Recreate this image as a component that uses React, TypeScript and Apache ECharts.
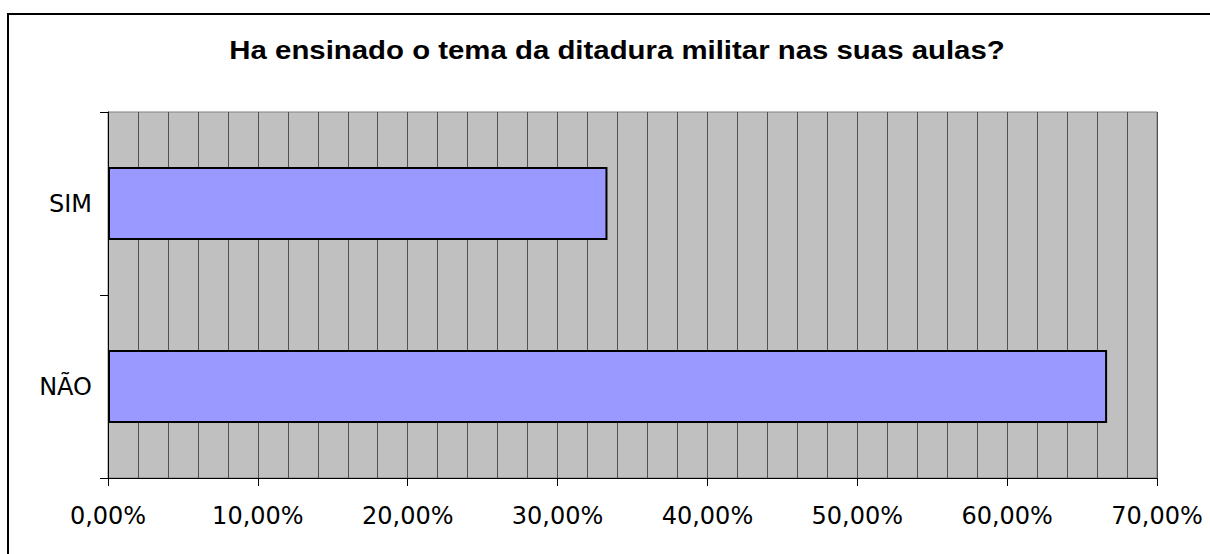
import React, { useEffect, useRef } from "react";
import * as echarts from "echarts";

const titleText = "Ha ensinado o tema da ditadura militar nas suas aulas?";
const categories = ["NÃO", "SIM"];
const values = [0.6667, 0.3333];
const axisMin = 0;
const axisMax = 0.7;
const axisInterval = 0.1;

const fmt = (v: number) => (v * 100).toFixed(2).replace(".", ",") + "%";

export default function App() {
  const ref = useRef<HTMLDivElement>(null);
  useEffect(() => {
    document.body.style.margin = "0";
    const chart = echarts.init(ref.current!, null, { renderer: "svg" });
    chart.setOption({
      animation: false,
      backgroundColor: "#ffffff",
      graphic: [
        {
          type: "rect",
          shape: { x: 8, y: 14, width: 1300, height: 700 },
          style: { fill: "none", stroke: "#000", lineWidth: 2 },
          silent: true,
        },
        {
          type: "text",
          x: 617,
          y: 50,
          scaleX: 1.13,
          style: {
            text: titleText,
            fontFamily: "Liberation Sans",
            fontSize: 26,
            fontWeight: "bold",
            fill: "#000",
            textAlign: "center",
            textVerticalAlign: "middle",
          },
        },
      ],
      grid: {
        left: 108,
        right: 53,
        top: 112,
        bottom: 76,
        show: true,
        backgroundColor: "#C0C0C0",
        borderColor: "#808080",
        borderWidth: 1,
      },
      xAxis: {
        type: "value",
        min: axisMin,
        max: axisMax,
        interval: axisInterval,
        axisLine: { show: true, lineStyle: { color: "#000", width: 1 } },
        axisTick: { show: true, length: 8, lineStyle: { color: "#000" } },
        axisLabel: {
          formatter: fmt,
          fontFamily: "DejaVu Sans",
          fontSize: 24,
          color: "#000",
          margin: 26,
        },
        splitLine: { show: true, lineStyle: { color: "#505050", width: 1 } },
        minorTick: { show: false, splitNumber: 5 },
        minorSplitLine: { show: true, lineStyle: { color: "#505050", width: 1 } },
      },
      yAxis: {
        type: "category",
        data: categories,
        axisLine: { show: true, lineStyle: { color: "#000", width: 1 } },
        axisTick: { show: true, length: 8, lineStyle: { color: "#000" } },
        axisLabel: {
          fontFamily: "DejaVu Sans",
          fontSize: 24,
          color: "#000",
          margin: 16,
        },
        splitLine: { show: false },
      },
      series: [
        {
          type: "bar",
          data: values,
          barWidth: "40%",
          itemStyle: { color: "#9999FF", borderColor: "#000", borderWidth: 2 },
        },
      ],
    });
    return () => chart.dispose();
  }, []);
  return <div ref={ref} style={{ width: 1210, height: 554 }} />;
}
